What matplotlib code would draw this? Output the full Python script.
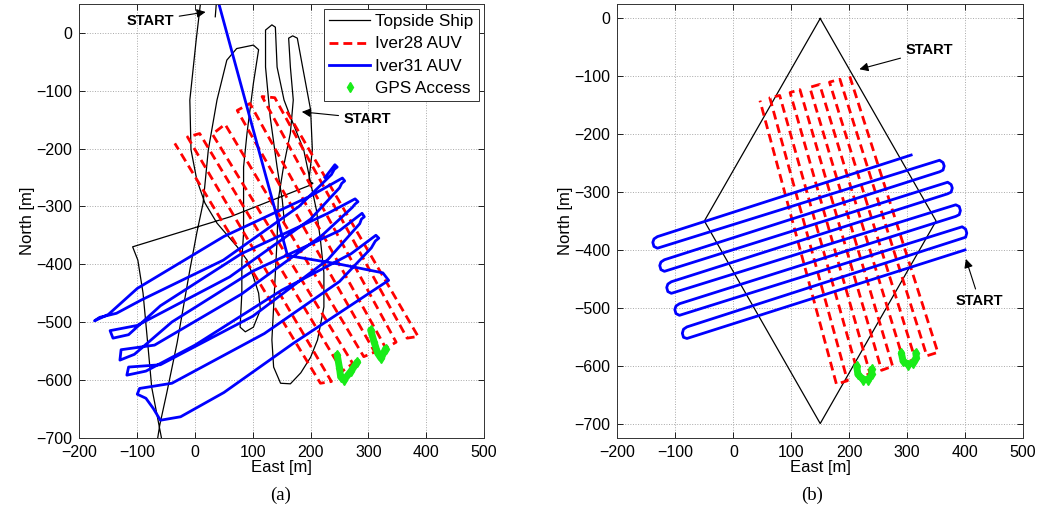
import matplotlib
matplotlib.use('Agg')
import matplotlib.pyplot as plt
from matplotlib.lines import Line2D

plt.rcParams['font.family'] = ['Liberation Sans', 'DejaVu Sans']
plt.rcParams['font.size'] = 10.5

# ---------------- (a) field data ----------------
ship_a_east = [35, 38, 14, 9, 2, -9, -7, 3, 17, 38, 73, 90, 101, 110, 113, 101, 87, 78, 81, 81,
               84, 84, 90, 101, 110, 101, 72, 55, 38, 23, 14, 3, -9, -31, -49, -61, -68, -54,
               -75, -82, -90, -99, -108, 61, 200, 204, 197, 203, 200, 186, 177, 169, 162, 165,
               170, 165, 153, 144, 142, 139, 136, 133, 136, 148, 165, 183, 200, 212, 223, 223,
               217, 210, 188, 165, 154, 142, 139, 133, 122, 122, 130, 142, 151, 155]
ship_a_north = [28, 66, 66, 48, -12, -116, -202, -254, -294, -329, -370, -393, -422, -450, -479,
                -509, -517, -509, -450, -393, -346, -232, -173, -87, -29, -21, -27, -47, -116,
                -202, -294, -346, -410, -536, -623, -678, -722, -722, -613, -536, -450, -393,
                -370, -318, -263, -260, -256, -202, -133, -58, -9, -5, -9, -59, -116, -173,
                -232, -289, -358, -415, -474, -531, -578, -606, -607, -588, -561, -531, -474,
                -415, -358, -306, -202, -145, -116, -59, 10, 14, 5, -59, -145, -232, -289, -332]

iver28_a_east = [159, 386, 367, 138, 116, 348, 330, 95, 73, 311, 292, 52, 30, 273, 255, 8, -13,
                 236, 217, -35]
iver28_a_north = [-136, -525, -528, -112, -110, -535, -545, -122, -134, -552, -560, -158, -175,
                  -572, -585, -174, -180, -603, -606, -191]

iver31_a_east = [40, 160, 250, 325, 335, 170, 50, -25, -60, -72, -85, -100, -96, -40, 120, 250,
                 305, 312, 318, 313, 270, 150, 0, -85, -118, -115, -60, 100, 230, 285, 288, 293,
                 289, 250, 100, -40, -105, -130, -128, -70, 80, 220, 272, 277, 282, 277, 230, 80,
                 -60, -115, -142, -147, -100, 60, 200, 250, 254, 259, 255, 200, 50, -100, -150,
                 -174, -165, -136, -93, 49, 180, 236, 241, 246, 242, 225]
iver31_a_north = [55, -385, -400, -415, -428, -537, -622, -664, -670, -650, -632, -625, -615,
                  -606, -520, -430, -372, -360, -355, -350, -382, -445, -540, -585, -592, -578,
                  -574, -490, -392, -330, -322, -318, -312, -342, -412, -500, -556, -566, -548,
                  -540, -452, -350, -302, -296, -292, -287, -312, -382, -472, -522, -528, -515,
                  -506, -422, -322, -268, -260, -256, -251, -282, -352, -442, -487, -498, -492,
                  -485, -462, -393, -300, -245, -236, -232, -228, -250]

gps_a1_east = [246, 250, 252, 258, 270, 281]
gps_a1_north = [-557, -580, -595, -600, -585, -569]
gps_a2_east = [304, 310, 316, 322, 330]
gps_a2_north = [-514, -535, -554, -563, -546]

# ---------------- (b) planned missions ----------------
ship_b_east = [150, 350, 150, -50, 150]
ship_b_north = [0, -350, -700, -350, 0]

iver28_b_east = [201, 353, 334, 184, 166, 314, 295, 149, 132, 275, 256, 115, 98, 236, 217, 80,
                 63, 197, 178, 46]
iver28_b_north = [-100, -577, -583, -105, -110, -589, -595, -114, -119, -601, -608, -123, -128,
                  -614, -620, -133, -137, -626, -632, -142]

iver31_b_east = [400, -80, -86, -88, -86, -80, 395, 401, 403, 401, 395, -93, -99, -101, -99, -93,
                 384, 390, 392, 390, 384, -107, -113, -115, -113, -107, 370, 376, 378, 376, 370,
                 -119, -125, -127, -125, -119, 356, 362, 364, 362, 356, -131, -137, -139, -137,
                 -131, 307]
iver31_b_north = [-400, -553, -551, -544, -537, -533, -380, -378, -371, -364, -360, -513, -510,
                  -503, -497, -493, -342, -339, -332, -325, -322, -475, -472, -465, -459, -455,
                  -303, -300, -293, -287, -283, -437, -434, -427, -421, -417, -265, -262, -255,
                  -249, -245, -397, -394, -387, -381, -377, -236]

gps_b1_east = [213, 215, 224, 233, 239, 239]
gps_b1_north = [-601, -615, -624, -624, -615, -606]
gps_b2_east = [290, 293, 302, 310, 316, 315]
gps_b2_north = [-578, -592, -598, -595, -586, -578]

BLUE = '#0000ff'
RED = '#ff0000'
GREEN = '#19ec19'
DASH = (0, (3.2, 1.8))

fig = plt.figure(figsize=(10.43, 5.2), dpi=100)
ax1 = fig.add_axes([0.0762, 0.1585, 0.3878, 0.8337])
ax2 = fig.add_axes([0.592, 0.1577, 0.3888, 0.8346])


def style_axes(ax, ylim):
    ax.set_xlim(-200, 500)
    ax.set_ylim(*ylim)
    ax.set_xticks(range(-200, 501, 100))
    ax.set_yticks(range(-700, 1, 100))
    ax.tick_params(direction='in', top=True, right=True, length=4, width=0.6,
                   labelsize=11.5, pad=5)
    ax.grid(True, linestyle=':', color='#a8a8a8', linewidth=0.7)
    ax.set_axisbelow(True)
    for s in ax.spines.values():
        s.set_linewidth(0.7)
        s.set_color('#333333')
    ax.set_xlabel('East [m]', fontsize=12, labelpad=0)
    ax.set_ylabel('North [m]', fontsize=12, labelpad=1)


# panel (a)
ax1.plot(ship_a_east, ship_a_north, color='k', lw=0.9)
ax1.plot(iver28_a_east, iver28_a_north, color=RED, lw=2.0, linestyle=DASH)
ax1.plot(iver31_a_east, iver31_a_north, color=BLUE, lw=2.0, solid_joinstyle='round')
for ge, gn in [(gps_a1_east, gps_a1_north), (gps_a2_east, gps_a2_north)]:
    ax1.plot(ge, gn, color=GREEN, lw=5, marker='d', ms=5, solid_capstyle='round')
style_axes(ax1, (-700, 50))

handles = [Line2D([], [], color='k', lw=0.9),
           Line2D([], [], color=RED, lw=2.0, linestyle=DASH),
           Line2D([], [], color=BLUE, lw=2.0),
           Line2D([], [], color=GREEN, marker='d', ms=5, linestyle='none')]
labels = ['Topside Ship', 'Iver28 AUV', 'Iver31 AUV', 'GPS Access']
leg = ax1.legend(handles, labels, loc='upper right', fontsize=12.3, fancybox=False,
                 edgecolor='#333333', framealpha=1, borderaxespad=0.3, handlelength=2.4,
                 handletextpad=0.3, borderpad=0.3, labelspacing=0.42)
leg.get_frame().set_linewidth(0.7)

arrow = dict(arrowstyle='-|>', color='k', lw=0.8, mutation_scale=13)
ax1.annotate('START', xy=(23, 37), xytext=(-78, 21), ha='center', va='center',
             fontsize=10.5, fontweight='bold', arrowprops=arrow)
ax1.annotate('START', xy=(180, -136), xytext=(299, -148), ha='center', va='center',
             fontsize=10.5, fontweight='bold', arrowprops=arrow)

# panel (b)
ax2.plot(ship_b_east, ship_b_north, color='k', lw=0.9)
ax2.plot(iver28_b_east, iver28_b_north, color=RED, lw=2.0, linestyle=DASH)
ax2.plot(iver31_b_east, iver31_b_north, color=BLUE, lw=2.0, solid_joinstyle='round')
for ge, gn in [(gps_b1_east, gps_b1_north), (gps_b2_east, gps_b2_north)]:
    ax2.plot(ge, gn, color=GREEN, lw=5, marker='d', ms=5, solid_capstyle='round')
style_axes(ax2, (-725, 25))

ax2.annotate('START', xy=(213, -89), xytext=(339, -55), ha='center', va='center',
             fontsize=10.5, fontweight='bold', arrowprops=arrow)
ax2.annotate('START', xy=(400, -411), xytext=(425, -489), ha='center', va='center',
             fontsize=10.5, fontweight='bold', arrowprops=arrow)

fig.text(281 / 1043, 1 - 495 / 520, '(a)', ha='center', va='center', fontsize=13.5,
         family=['Liberation Serif', 'DejaVu Serif'])
fig.text(812 / 1043, 1 - 495 / 520, '(b)', ha='center', va='center', fontsize=13.5,
         family=['Liberation Serif', 'DejaVu Serif'])

fig.savefig('out.png', dpi=100)
